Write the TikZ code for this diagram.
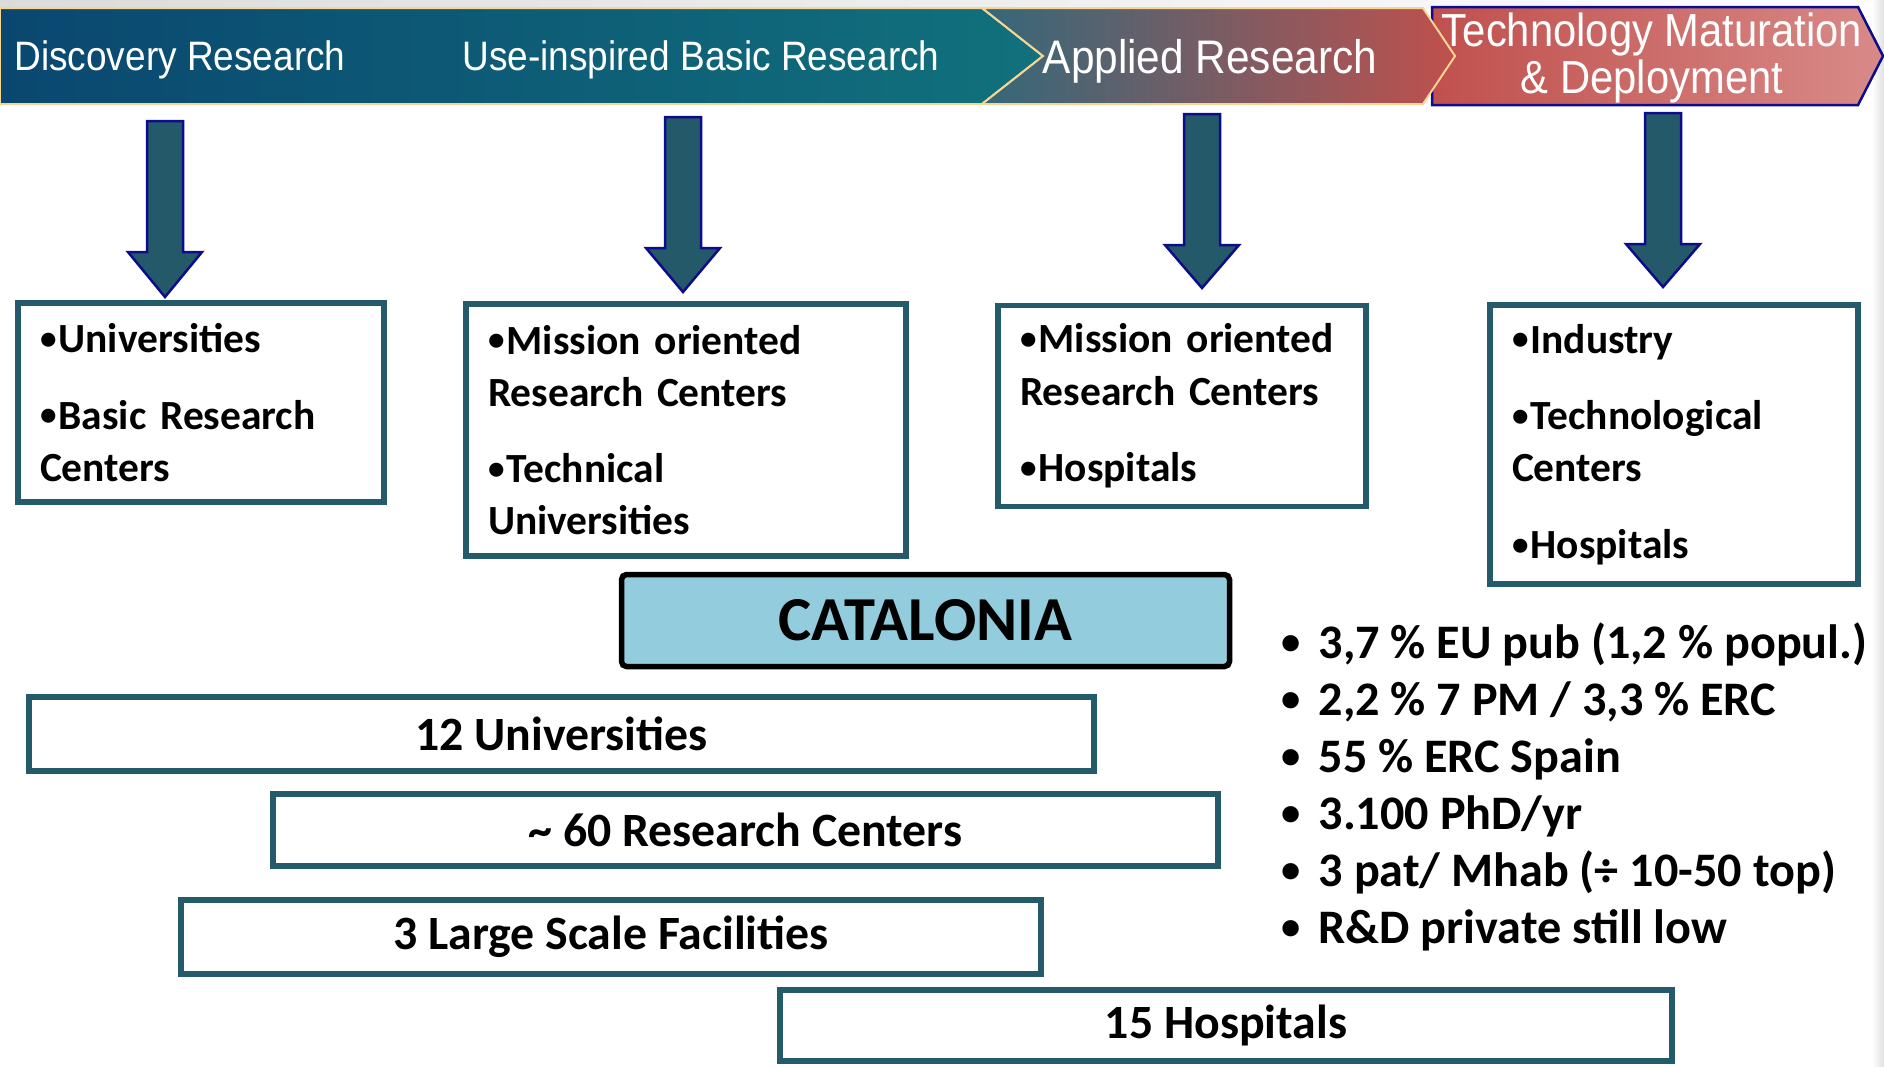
\documentclass[tikz,border=0pt]{standalone}
\usepackage{fontspec}
\setmainfont{Carlito}
\newfontfamily\bannerfont[FakeStretch=0.9]{Liberation Sans}
\usepackage{xcolor}
\usetikzlibrary{positioning}

\definecolor{boxteal}{RGB}{36,91,106}
\definecolor{arrowteal}{RGB}{35,89,104}
\definecolor{arrownavy}{RGB}{12,12,140}
\definecolor{bandblue}{RGB}{10,71,112}
\definecolor{bandteal}{RGB}{17,113,124}
\definecolor{bandmid}{RGB}{52,104,122}
\definecolor{bandred}{RGB}{192,80,77}
\definecolor{bandpink}{RGB}{216,138,136}
\definecolor{bandedge}{RGB}{247,214,148}
\definecolor{catblue}{RGB}{147,205,221}

\newcommand{\itemdot}{\raisebox{0.08em}{\scalebox{0.8}{\textbullet}}\hspace{0.05em}}

\begin{document}
\begin{tikzpicture}[
	x=0.1mm, y=-0.1mm,
	bandtext/.style={
		text=white,
		inner sep=0pt,
		font=\bannerfont\fontsize{11.7}{13}\selectfont
	},
	arrowblock/.style={
		fill=arrowteal,
		draw=arrownavy,
		line width=0.25mm
	},
	actor/.style={
		draw=boxteal,
		line width=0.55mm,
		align=left,
		inner xsep=2.2mm,
		font=\bfseries\fontsize{11.8}{14.8}\selectfont
	},
	layer/.style={
		draw=boxteal,
		line width=0.6mm,
		font=\bfseries\fontsize{13.6}{16}\selectfont
	},
	fact/.style={
		anchor=base west,
		inner sep=0pt,
		font=\bfseries\fontsize{13.7}{16}\selectfont
	}
	]
	
	\useasboundingbox (0,0) rectangle (1884,1066);
	\shade[left color=black!14, right color=white] (0,0) rectangle (1884,8);
	\shade[left color=white, right color=black!12] (1872,0) rectangle (1884,1066);
	
	\shadedraw[left color=bandred, right color=bandpink, draw=arrownavy, line width=0.25mm]
		(1432,7) -- (1858,7) -- (1883,56) -- (1858,105) -- (1432,105) -- cycle;
	\shadedraw[left color=bandblue, right color=bandteal, draw=bandedge, line width=0.2mm]
		(0,8) -- (982,8) -- (1043,56) -- (982,104) -- (0,104) -- cycle;
	\shadedraw[left color=bandmid, right color=bandred, draw=bandedge, line width=0.2mm]
		(982,8) -- (1423,8) -- (1455,56) -- (1423,104) -- (982,104) -- (1043,56) -- cycle;
	
	\node[bandtext, anchor=base] (discovery) at (180,70) {Discovery Research};
	\node[bandtext, anchor=base] (useinspired) at (701,70) {Use-inspired Basic Research};
	\node[bandtext, anchor=base, font=\bannerfont\fontsize{13.4}{14}\selectfont] (applied) at (1210,73) {Applied Research};
	\node[bandtext, align=center, font=\bannerfont\fontsize{13.2}{13.1}\selectfont] (maturation) at (1652,58) {Technology Maturation\\\& Deployment};
	
	\foreach \ax/\ay/\ab/\at in {165/121/252/297, 683/117/248/292, 1202/114/245/288, 1663/113/244/287}
		\draw[arrowblock] (\ax-18,\ay) -- (\ax+18,\ay) -- (\ax+18,\ab) -- (\ax+37,\ab)
			-- (\ax,\at) -- (\ax-37,\ab) -- (\ax-18,\ab) -- cycle;
	
	\node[actor, text width=32.2mm, minimum height=19.9mm] (discbox) at (201,402.5)
		{\itemdot Universities\\[7pt]\itemdot Basic Research\\Centers};
	\node[actor, text width=39.6mm, minimum height=25.2mm] (usebox) at (686,430)
		{\itemdot Mission oriented\\Research Centers\\[7pt]\itemdot Technical\\Universities};
	\node[actor, text width=32.4mm, minimum height=20.1mm] (appbox) at (1182,406)
		{\itemdot Mission oriented\\Research Centers\\[7pt]\itemdot Hospitals};
	\node[actor, text width=32.4mm, minimum height=27.9mm] (matbox) at (1674,444.5)
		{\itemdot Industry\\[7pt]\itemdot Technological\\Centers\\[7pt]\itemdot Hospitals};
	
	\node[draw=black, fill=catblue, line width=0.55mm, rounded corners=0.5mm,
		minimum width=60.8mm, minimum height=9.2mm,
		font=\bfseries\fontsize{17.8}{20}\selectfont] (catalonia) at (925.5,620.5) {CATALONIA};
	
	\node[layer, minimum width=106.5mm, minimum height=7.4mm] (univ) at (561.5,734) {12 Universities};
	\node[layer, minimum width=94.5mm, minimum height=7.2mm] (centers) at (745.5,830) {\textasciitilde{} 60 Research Centers};
	\node[layer, minimum width=86mm, minimum height=7.4mm] (facilities) at (611,937) {3 Large Scale Facilities};
	\node[layer, minimum width=89.2mm, minimum height=7.1mm] (hospitals) at (1226,1025.5) {15 Hospitals};
	
	\foreach \fact [count=\i from 0] in {{3,7 \% EU pub (1,2 \% popul.)}, {2,2 \% 7 PM / 3,3 \% ERC},
		{55 \% ERC Spain}, {3.100 PhD/yr}, {3 pat/ Mhab (÷ 10-50 top)}, {R\&D private still low}}
		\node[fact] (fact\i) at (1281,658+57*\i) {\makebox[3.7mm][l]{\itemdot}\fact};
	
\end{tikzpicture}
\end{document}
